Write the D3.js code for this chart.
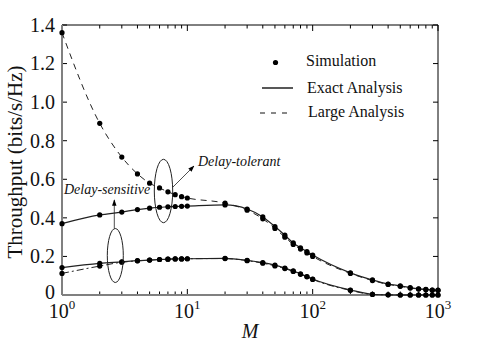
<!DOCTYPE html>
<meta charset="utf-8">
<style>
body { margin: 0; background: #fff; }
svg text { font-family: "Liberation Serif", "DejaVu Serif", serif; }
.tick-label { font-size: 20px; fill: #111; }
.legend-text { font-size: 16px; fill: #111; }
.note { font-size: 14px; font-style: italic; fill: #111; }
</style>
<svg></svg>
<script src="https://d3js.org/d3.v7.min.js"></script>
<script>

var M = [1, 2, 3, 4, 5, 6, 7, 8, 9, 10, 20, 30, 40, 50, 60, 70, 80, 90, 100, 200, 300, 400, 500, 600, 700, 800, 900, 1000];

// delay-tolerant
var tolExact = [0.37, 0.415, 0.43, 0.443, 0.45, 0.455, 0.457, 0.459, 0.46, 0.461, 0.467, 0.446, 0.405, 0.355, 0.31, 0.27, 0.245, 0.225, 0.207, 0.115, 0.078, 0.057, 0.047, 0.038, 0.032, 0.029, 0.026, 0.025];
var tolLarge = [1.36, 0.89, 0.715, 0.628, 0.58, 0.555, 0.535, 0.52, 0.51, 0.503, 0.476, 0.44, 0.395, 0.345, 0.3, 0.262, 0.238, 0.218, 0.2, 0.112, 0.075, 0.055, 0.045, 0.036, 0.031, 0.028, 0.025, 0.024];

// delay-sensitive
var senExact = [0.142, 0.164, 0.172, 0.178, 0.181, 0.184, 0.186, 0.187, 0.187, 0.188, 0.19, 0.18, 0.168, 0.155, 0.14, 0.125, 0.11, 0.096, 0.083, 0.026, 0.004, 0.001, 0, 0, 0, 0, 0, 0];
var senLarge = [0.112, 0.15, 0.17, 0.177, 0.181, 0.184, 0.186, 0.187, 0.187, 0.188, 0.189, 0.178, 0.165, 0.151, 0.137, 0.122, 0.107, 0.094, 0.081, 0.024, 0.003, 0.001, 0, 0, 0, 0, 0, 0];

var yTicks = [0, 0.2, 0.4, 0.6, 0.8, 1.0, 1.2, 1.4];
var xMajor = [1, 10, 100, 1000];
var xExp = ['0', '1', '2', '3'];

var width = 484, height = 347;
var plotL = 62, plotR = 438, plotT = 25, plotB = 295;

var svg = d3.select('svg').attr('width', width).attr('height', height);

var x = d3.scaleLog().domain([1, 1000]).range([plotL, plotR]);
var y = d3.scaleLinear().domain([0, 1.4]).range([plotB, plotT]);

var xMinor = [];
[1, 10, 100].forEach(function (d) {
  for (var k = 2; k <= 9; k++) xMinor.push(d * k);
});

// frame
svg.append('line').attr('x1', plotL).attr('x2', plotR).attr('y1', plotT).attr('y2', plotT)
  .attr('stroke', '#000').attr('stroke-width', 1);
svg.append('line').attr('x1', plotR).attr('x2', plotR).attr('y1', plotT).attr('y2', plotB)
  .attr('stroke', '#000').attr('stroke-width', 1);

// ticks
var ticks = svg.append('g').attr('stroke', '#000').attr('stroke-width', 1);
xMajor.concat(xMinor).forEach(function (d) {
  var len = xMajor.indexOf(d) >= 0 ? 6 : 3.5;
  ticks.append('line').attr('x1', x(d)).attr('x2', x(d)).attr('y1', plotB).attr('y2', plotB - len);
  ticks.append('line').attr('x1', x(d)).attr('x2', x(d)).attr('y1', plotT).attr('y2', plotT + len);
});
yTicks.forEach(function (d) {
  ticks.append('line').attr('x1', plotL).attr('x2', plotL + 5).attr('y1', y(d)).attr('y2', y(d));
  ticks.append('line').attr('x1', plotR).attr('x2', plotR - 5).attr('y1', y(d)).attr('y2', y(d));
});

svg.append('line').attr('x1', plotL).attr('x2', plotR).attr('y1', plotB).attr('y2', plotB)
  .attr('stroke', '#808080').attr('stroke-width', 2);
svg.append('line').attr('x1', plotL).attr('x2', plotL).attr('y1', plotT).attr('y2', plotB)
  .attr('stroke', '#808080').attr('stroke-width', 2);

// tick labels
svg.selectAll('.ylab').data(yTicks).enter().append('text')
  .attr('class', 'tick-label')
  .attr('x', 55).attr('y', function (d) { return d === 0 ? y(d) - 3 : y(d); })
  .attr('dy', '0.34em')
  .attr('text-anchor', 'end')
  .text(function (d) { return d === 0 ? '0' : d.toFixed(1); });

xMajor.forEach(function (d, i) {
  var t = svg.append('text').attr('class', 'tick-label')
    .attr('x', x(d)).attr('y', 318).attr('text-anchor', 'middle');
  t.append('tspan').text('10');
  t.append('tspan').attr('dy', -9).attr('font-size', 13).text(xExp[i]);
});

// axis titles
svg.append('text')
  .attr('transform', 'translate(22,162) rotate(-90)')
  .attr('text-anchor', 'middle')
  .attr('font-size', 21).attr('fill', '#111')
  .text('Throughput (bits/s/Hz)');

svg.append('text')
  .attr('x', 250).attr('y', 338)
  .attr('text-anchor', 'middle')
  .attr('font-size', 20).attr('font-style', 'italic').attr('fill', '#111')
  .text('M');

// curves
var line = function (vals) {
  return d3.line()
    .x(function (d, i) { return x(M[i]); })
    .y(function (d) { return y(d); })
    .curve(d3.curveMonotoneX)(vals);
};

svg.append('path').attr('d', line(tolLarge)).attr('fill', 'none')
  .attr('stroke', '#222').attr('stroke-width', 1).attr('stroke-dasharray', '6,5');
svg.append('path').attr('d', line(senLarge)).attr('fill', 'none')
  .attr('stroke', '#222').attr('stroke-width', 1).attr('stroke-dasharray', '7,3,2,3');
svg.append('path').attr('d', line(tolExact)).attr('fill', 'none')
  .attr('stroke', '#222').attr('stroke-width', 1.2);
svg.append('path').attr('d', line(senExact)).attr('fill', 'none')
  .attr('stroke', '#222').attr('stroke-width', 1.2);

// simulation points
[tolLarge, tolExact, senLarge, senExact].forEach(function (vals) {
  svg.append('g').selectAll('circle').data(vals).enter().append('circle')
    .attr('cx', function (d, i) { return x(M[i]); })
    .attr('cy', function (d) { return y(d); })
    .attr('r', 2.6)
    .attr('fill', '#000');
});

// annotations
var defs = svg.append('defs');
defs.append('marker').attr('id', 'arr').attr('viewBox', '0 0 10 10')
  .attr('refX', 9).attr('refY', 5).attr('markerWidth', 8).attr('markerHeight', 8)
  .attr('orient', 'auto-start-reverse')
  .append('path').attr('d', 'M0,1.5 L10,5 L0,8.5 Z').attr('fill', '#000');

svg.append('ellipse').attr('cx', 163.5).attr('cy', 191).attr('rx', 9.2).attr('ry', 31.7)
  .attr('fill', 'none').attr('stroke', '#222').attr('stroke-width', 1);
svg.append('line').attr('x1', 173).attr('y1', 187).attr('x2', 194).attr('y2', 166)
  .attr('stroke', '#222').attr('stroke-width', 0.8).attr('marker-end', 'url(#arr)');
svg.append('text').attr('class', 'note').attr('x', 198).attr('y', 166).text('Delay-tolerant');

svg.append('ellipse').attr('cx', 115.3).attr('cy', 255.5).attr('rx', 8).attr('ry', 27)
  .attr('fill', 'none').attr('stroke', '#222').attr('stroke-width', 1);
svg.append('line').attr('x1', 114.3).attr('y1', 228.5).attr('x2', 114.3).attr('y2', 200)
  .attr('stroke', '#222').attr('stroke-width', 0.8).attr('marker-end', 'url(#arr)');
svg.append('text').attr('class', 'note').attr('x', 64).attr('y', 194).text('Delay-sensitive');

// legend
svg.append('circle').attr('cx', 275.5).attr('cy', 62.5).attr('r', 2.6).attr('fill', '#000');
svg.append('text').attr('class', 'legend-text').attr('x', 306).attr('y', 66).text('Simulation');
svg.append('line').attr('x1', 262).attr('x2', 293).attr('y1', 88).attr('y2', 88)
  .attr('stroke', '#111').attr('stroke-width', 1.4);
svg.append('text').attr('class', 'legend-text').attr('x', 307).attr('y', 93).text('Exact Analysis');
svg.append('line').attr('x1', 260).attr('x2', 293).attr('y1', 113).attr('y2', 113)
  .attr('stroke', '#111').attr('stroke-width', 1).attr('stroke-dasharray', '5,6');
svg.append('text').attr('class', 'legend-text').attr('x', 308).attr('y', 117).text('Large Analysis');

</script>
